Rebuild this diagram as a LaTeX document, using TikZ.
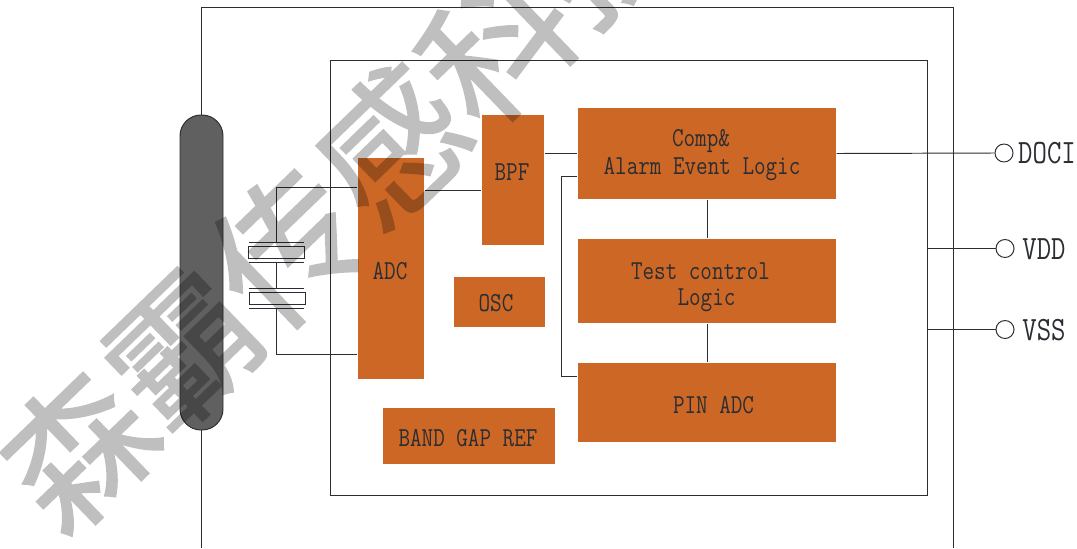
\documentclass[tikz,border=0pt]{standalone}
\usepackage{fontspec}
\usetikzlibrary{positioning}
\newfontfamily\lblfont[FakeStretch=0.82]{Latin Modern Mono}
\newfontfamily\cjk[FakeBold=1.2]{Noto Sans CJK SC}
\definecolor{brick}{RGB}{204,103,38}
\definecolor{ink}{RGB}{42,45,51}
\definecolor{stone}{RGB}{96,96,96}
\def\px{0.02cm}
\tikzset{
    wire/.style={draw=ink, line width=0.55pt},
    block/.style={fill=brick, inner sep=0pt, outer sep=0.4pt},
    lbl/.style={text=ink, inner sep=0pt, font=\lblfont\fontsize{15.6}{15.6}\selectfont},
    pinlbl/.style={text=ink, inner sep=0pt, font=\lblfont\fontsize{19.4}{19.4}\selectfont},
    pin/.style={circle, wire, fill=white, inner sep=0pt, minimum size=18*\px},
    xtal/.style={rectangle, wire, fill=white, inner sep=0pt, minimum width=56.5*\px, minimum height=12*\px},
    wmark/.style={rotate=44, inner sep=0pt, text=black, font=\cjk\fontsize{83}{83}\selectfont}
}
\begin{document}
\begin{tikzpicture}[x=0.02cm, y=-0.02cm]
    \useasboundingbox (0,0) rectangle (1077,548);

    % frames
    \node[rectangle, wire, inner sep=0pt, minimum width=597*\px, minimum height=435*\px] (core) at (628.5,277.5) {};
    \node[rectangle, wire, fill=stone, rounded corners=21*\px, inner sep=0pt, minimum width=43*\px, minimum height=315*\px] (pill) at (201.5,272.5) {};
    \coordinate (topleft) at (201.5,7);
    \coordinate (topright) at (953,7);
    \coordinate (botleft) at (201.5,548);
    \coordinate (botright) at (953,548);
    \draw[wire] (pill.north) -- (topleft) -- (topright) -- (botright);
    \draw[wire] (pill.south) -- (botleft);

    % blocks
    \node[block, minimum width=66*\px, minimum height=221*\px] (adc) at (391,268.5) {};
    \node[block, minimum width=62*\px, minimum height=130*\px] (bpf) at (513,180) {};
    \node[block, minimum width=258*\px, minimum height=91*\px] (comp) at (707,153.5) {};
    \node[block, minimum width=258*\px, minimum height=84*\px] (test) at (707,281) {};
    \node[block, minimum width=258*\px, minimum height=79*\px] (pinadc) at (707,402.5) {};
    \node[block, minimum width=91*\px, minimum height=50*\px] (osc) at (499.5,302) {};
    \node[block, minimum width=172*\px, minimum height=56*\px] (bgr) at (469,436) {};

    \node[lbl] (adclbl) at (390,271) {ADC};
    \node[lbl] (bpflbl) at (512,172) {BPF};
    \node[lbl] (osclbl) at (496,303) {OSC};
    \node[lbl] (bgrlbl) at (468,438.5) {BAND GAP REF};
    \node[lbl] (complbla) at (701,141) {Comp\&};
    \node[lbl] (complblb) at (702,169) {Alarm Event Logic};
    \node[lbl] (testlbla) at (700.5,271) {Test control};
    \node[lbl] (testlblb) at (706.5,300) {Logic};
    \node[lbl] (pinlblc) at (713.5,405.5) {PIN ADC};

    % pins
    \node[pin] (doci) at (1004,153) {};
    \node[pin] (vdd) at (1005,248.5) {};
    \node[pin] (vss) at (1005,329.5) {};
    \node[pinlbl] (docilbl) at (1047,153) {DOCI};
    \node[pinlbl] (vddlbl) at (1044,249.5) {VDD};
    \node[pinlbl] (vsslbl) at (1044,330.5) {VSS};

    % crystal
    \node[xtal] (xtala) at (276.5,252.5) {};
    \node[xtal] (xtalb) at (277.5,298.5) {};
    \foreach \n/\y in {pa/242.5, pb/262.5, pc/288.5, pd/308.5} {
        \coordinate (\n l) at (249,\y);
        \coordinate (\n r) at (304,\y);
        \draw[wire] (\n l) -- (\n r);
        \coordinate (\n) at (276.5,\y);
    }
    \coordinate (xtop) at (276.5,187.5);
    \coordinate (xbot) at (276.5,354.5);
    \draw[wire] (pa) -- (xtop) -- (adc.west |- xtop);
    \draw[wire] (pb) -- (pc);
    \draw[wire] (pd) -- (xbot) -- (adc.west |- xbot);

    % signal lines
    \coordinate (tapa) at (0,190);
    \coordinate (tapb) at (561,176);
    \coordinate (tapc) at (561,376.5);
    \draw[wire] (adc.east |- tapa) -- (bpf.west |- tapa);
    \draw[wire] (bpf.east |- comp.west) -- (comp.west);
    \draw[wire] (comp.east) -- (doci.west);
    \draw[wire] (comp.west |- tapb) -- (tapb) -- (tapc) -- (pinadc.west |- tapc);
    \draw[wire] (comp.south) -- (test.north);
    \draw[wire] (test.south) -- (pinadc.north);
    \draw[wire] (core.east |- vdd) -- (vdd.west);
    \draw[wire] (core.east |- vss) -- (vss.west);

    % watermark
    \begin{scope}
        \clip (0,0) rectangle (1077,548);
        \begin{scope}[transparency group, opacity=0.25]
            \node[wmark] (mark) at (339,196) {森霸传感科技};
        \end{scope}
    \end{scope}
\end{tikzpicture}
\end{document}
